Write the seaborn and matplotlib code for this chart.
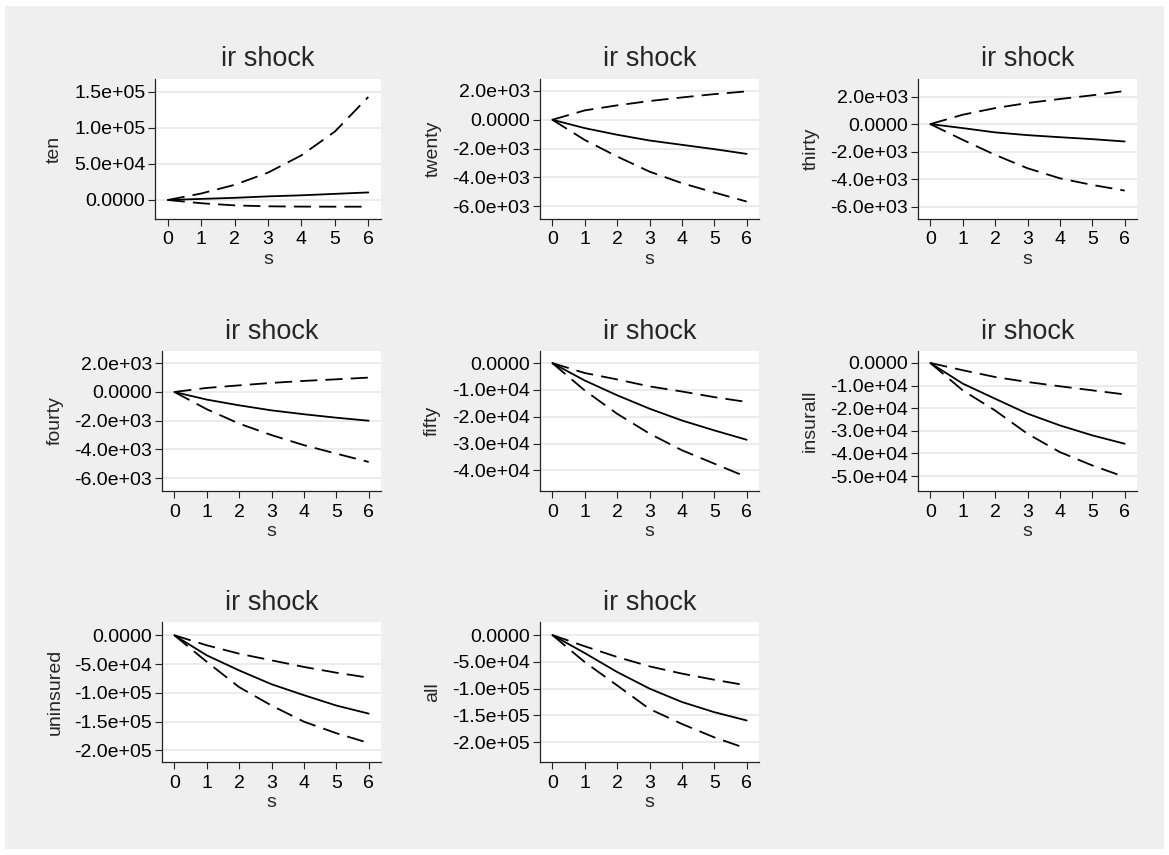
import matplotlib
matplotlib.use("Agg")
import matplotlib.pyplot as plt
from matplotlib.patches import Rectangle
from matplotlib.ticker import FixedLocator, FuncFormatter
import seaborn as sns
import pandas as pd

# horizon
s = [0, 1, 2, 3, 4, 5, 6]

# impulse responses: irf, lower band, upper band
ten_irf = [0, 1500, 3000, 5000, 6500, 8500, 10500]
ten_lo = [0, -4500, -7500, -8800, -9200, -9300, -9300]
ten_hi = [0, 9000, 21000, 38000, 62000, 95000, 143000]

twenty_irf = [0, -580, -1040, -1440, -1740, -2040, -2370]
twenty_lo = [0, -1400, -2550, -3600, -4400, -5050, -5680]
twenty_hi = [0, 650, 1000, 1300, 1550, 1780, 1970]

thirty_irf = [0, -290, -600, -800, -950, -1090, -1260]
thirty_lo = [0, -1140, -2230, -3200, -3930, -4410, -4820]
thirty_hi = [0, 680, 1160, 1530, 1820, 2090, 2400]

fourty_irf = [0, -530, -930, -1280, -1550, -1790, -2000]
fourty_lo = [0, -1200, -2200, -3000, -3700, -4290, -4870]
fourty_hi = [0, 280, 460, 630, 770, 880, 1000]

fifty_irf = [0, -6500, -12000, -17000, -21400, -25100, -28600]
fifty_lo = [0, -10200, -18900, -26300, -32500, -37500, -42500]
fifty_hi = [0, -3700, -6100, -8700, -10600, -12700, -14500]

insurall_irf = [0, -9100, -15800, -22400, -27600, -32000, -35700]
insurall_lo = [0, -12100, -21000, -31300, -39400, -45300, -50400]
insurall_hi = [0, -3200, -6200, -8400, -10300, -12100, -13900]

uninsured_irf = [0, -34800, -61000, -85000, -104000, -122000, -136000]
uninsured_lo = [0, -46000, -90000, -122000, -150000, -170000, -187000]
uninsured_hi = [0, -17400, -32000, -43500, -55000, -65000, -73600]

all_irf = [0, -33600, -69000, -100000, -125000, -144000, -159500]
all_lo = [0, -50500, -94000, -138000, -166000, -191000, -212000]
all_hi = [0, -21000, -41000, -58500, -72000, -83500, -94000]

panels = {
    "ten": (ten_irf, ten_lo, ten_hi),
    "twenty": (twenty_irf, twenty_lo, twenty_hi),
    "thirty": (thirty_irf, thirty_lo, thirty_hi),
    "fourty": (fourty_irf, fourty_lo, fourty_hi),
    "fifty": (fifty_irf, fifty_lo, fifty_hi),
    "insurall": (insurall_irf, insurall_lo, insurall_hi),
    "uninsured": (uninsured_irf, uninsured_lo, uninsured_hi),
    "all": (all_irf, all_lo, all_hi),
}

# y ticks per panel
yticks = {
    "ten": [0, 50000, 100000, 150000],
    "twenty": [-6000, -4000, -2000, 0, 2000],
    "thirty": [-6000, -4000, -2000, 0, 2000],
    "fourty": [-6000, -4000, -2000, 0, 2000],
    "fifty": [-40000, -30000, -20000, -10000, 0],
    "insurall": [-50000, -40000, -30000, -20000, -10000, 0],
    "uninsured": [-200000, -150000, -100000, -50000, 0],
    "all": [-200000, -150000, -100000, -50000, 0],
}
ylims = {
    "ten": (-26400, 168000),
    "twenty": (-6890, 2830),
    "thirty": (-6880, 3270),
    "fourty": (-6890, 2850),
    "fifty": (-47700, 4500),
    "insurall": (-56600, 5300),
    "uninsured": (-220000, 23000),
    "all": (-237000, 24300),
}

# plot region boxes in pixels: left, right, top, bottom
W, H = 1169, 855
boxes = {
    "ten": (155, 381, 79, 219),
    "twenty": (540, 759, 79, 219),
    "thirty": (918, 1137, 79, 219),
    "fourty": (162, 381, 351, 491),
    "fifty": (540, 759, 351, 491),
    "insurall": (918, 1137, 351, 491),
    "uninsured": (162, 381, 622, 762),
    "all": (540, 759, 622, 762),
}

sns.set_style("white")
plt.rcParams["font.family"] = ["Liberation Sans", "DejaVu Sans"]

fig = plt.figure(figsize=(11.69, 8.55), dpi=100)
fig.patch.set_facecolor("white")
fig.add_artist(Rectangle((5 / W, 6 / H), 1159 / W, 843 / H, transform=fig.transFigure,
                         facecolor="#EFEFEF", edgecolor="none", zorder=-10))

dash = (9.5, 4.5)


def fmt(v, pos):
    if v == 0:
        return "0.0000"
    return f"{v:.1e}"


for name, (irf, lo, hi) in panels.items():
    l, r, t, b = boxes[name]
    ax = fig.add_axes([l / W, 1 - b / H, (r - l) / W, (b - t) / H])
    ax.set_facecolor("white")

    df = pd.DataFrame({
        "s": s * 3,
        "value": irf + lo + hi,
        "band": ["irf"] * 7 + ["lo"] * 7 + ["hi"] * 7,
    })
    sns.lineplot(data=df, x="s", y="value", style="band", ax=ax, color="black",
                 dashes={"irf": "", "lo": dash, "hi": dash}, linewidth=1.3,
                 legend=False, zorder=3)

    ax.set_xlim(-0.38, 6.38)
    ax.set_ylim(*ylims[name])
    ax.set_xticks(s)
    ax.yaxis.set_major_locator(FixedLocator(yticks[name]))
    ax.yaxis.set_major_formatter(FuncFormatter(fmt))

    ax.grid(axis="y", color="#E6E6E6", linewidth=1.1)
    ax.grid(axis="x", visible=False)
    for sp in ["top", "right"]:
        ax.spines[sp].set_visible(False)
    for sp in ["left", "bottom"]:
        ax.spines[sp].set_color("#222222")
        ax.spines[sp].set_linewidth(0.9)

    ax.tick_params(axis="both", which="major", direction="out", length=5, width=0.8,
                   color="#222222", labelsize=14, labelcolor="black",
                   left=True, bottom=True)
    ax.tick_params(axis="y", pad=2)
    ax.tick_params(axis="x", pad=4)

    ax.set_xlabel("s", fontsize=14, labelpad=2)
    ax.set_ylabel(name, fontsize=14, labelpad=8)
    ax.set_title("ir shock", fontsize=19.5, pad=9)

fig.savefig("out.png", dpi=100, facecolor=fig.get_facecolor())
